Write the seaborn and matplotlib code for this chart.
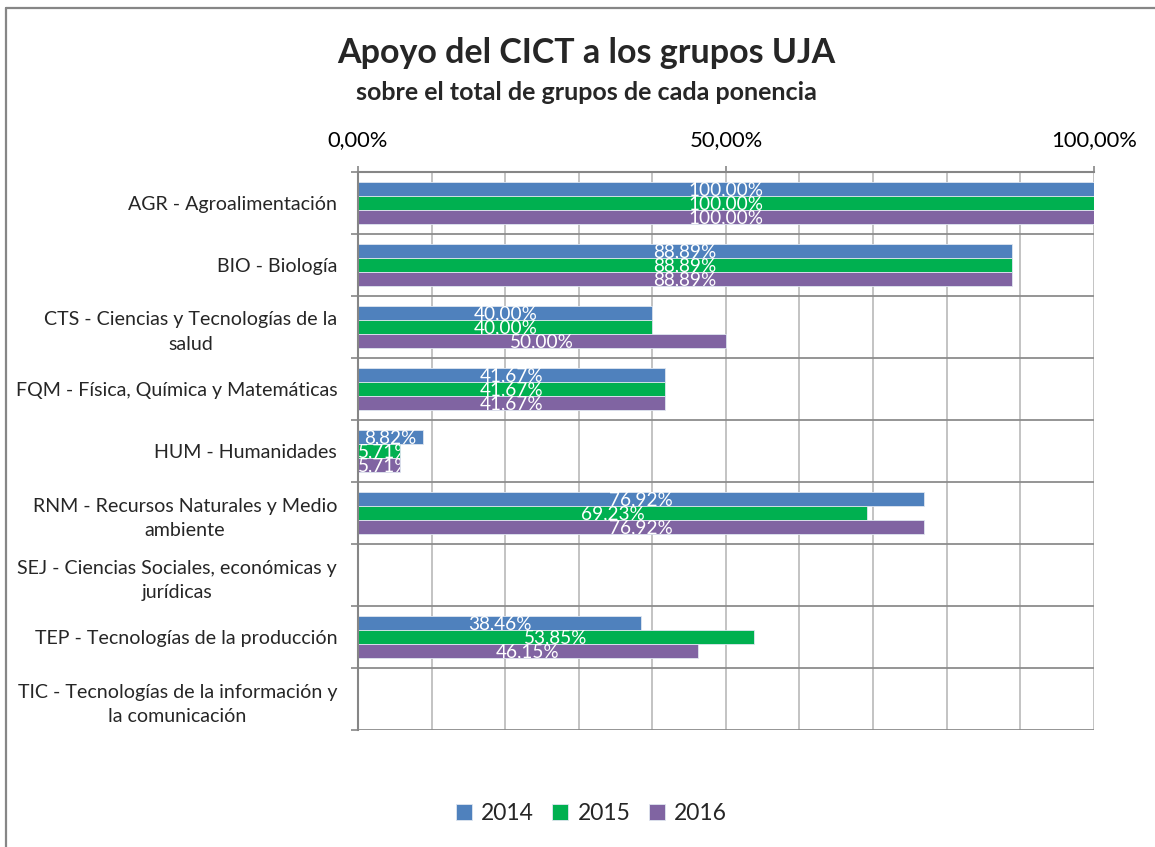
import pandas as pd
import matplotlib
matplotlib.use("Agg")
import matplotlib.pyplot as plt
import matplotlib.ticker as mticker
from matplotlib.transforms import TransformedBbox
from matplotlib.lines import Line2D
import seaborn as sns
import numpy as np

# data
categories = [
    "AGR - Agroalimentación",
    "BIO - Biología",
    "CTS - Ciencias y Tecnologías de la\nsalud",
    "FQM - Física, Química y Matemáticas",
    "HUM - Humanidades",
    "RNM - Recursos Naturales y Medio\nambiente",
    "SEJ - Ciencias Sociales, económicas y\njurídicas",
    "TEP - Tecnologías de la producción",
    "TIC - Tecnologías de la información y\nla comunicación",
]
years = ["2014", "2015", "2016"]
v2014 = [100.00, 88.89, 40.00, 41.67, 8.82, 76.92, np.nan, 38.46, np.nan]
v2015 = [100.00, 88.89, 40.00, 41.67, 5.71, 69.23, np.nan, 53.85, np.nan]
v2016 = [100.00, 88.89, 50.00, 41.67, 5.71, 76.92, np.nan, 46.15, np.nan]
colors = ["#4F81BD", "#00B050", "#8064A2"]

df = pd.DataFrame({
    "categoria": categories * 3,
    "anio": [y for y in years for _ in categories],
    "valor": v2014 + v2015 + v2016,
})

sns.set_style("white")
plt.rcParams["font.family"] = "Lato"

fig = plt.figure(figsize=(11.55, 8.47), dpi=100)
ax = fig.add_axes([0.31, 0.138, 0.637, 0.659])

sns.barplot(data=df, y="categoria", x="valor", hue="anio", order=categories,
            hue_order=years, palette=colors, orient="h", width=0.675, gap=0,
            edgecolor="#dfe6f0", linewidth=0.6, saturation=1, ax=ax, legend=True)

ax.set_xlim(0, 100)
ax.set_ylim(len(categories) - 0.5, -0.5)
ax.set_xlabel("")
ax.set_ylabel("")
ax.set_axisbelow(True)

# x axis on top, grid every 10%
ax.xaxis.tick_top()
ax.xaxis.set_major_locator(mticker.FixedLocator([0, 50, 100]))
ax.xaxis.set_minor_locator(mticker.MultipleLocator(10))
ax.xaxis.set_major_formatter(mticker.FuncFormatter(lambda x, _: f"{x:.2f}".replace(".", ",") + "%"))
ax.tick_params(axis="x", which="major", top=True, length=4, width=1.2, color="#868686",
               pad=12, labelsize=15.8, labelcolor="black")
ax.tick_params(axis="x", which="minor", top=False, bottom=False, length=0)
ax.grid(axis="x", which="both", color="#BEBEBE", linewidth=1.3)

# category labels, centred lines, right aligned to the axis
ax.set_yticks(range(len(categories)), labels=categories, multialignment="center",
              linespacing=1.55)
ax.yaxis.set_minor_locator(mticker.FixedLocator(np.arange(-0.5, len(categories), 1.0)))
ax.tick_params(axis="y", which="minor", left=True, length=5, width=1.2, color="#868686")
ax.tick_params(axis="y", which="major", left=False, length=0, pad=15, labelsize=14.1)
ax.grid(axis="y", which="minor", color="#8C8C8C", linewidth=1.3)
ax.grid(axis="y", which="major", visible=False)

for side in ["right", "bottom"]:
    ax.spines[side].set_visible(False)
for side in ["top", "left"]:
    ax.spines[side].set_color("#868686")
    ax.spines[side].set_linewidth(1.5)

# white value labels clipped to their bars
fig.canvas.draw()
for cont in ax.containers:
    for bar in cont:
        w = bar.get_width()
        if not np.isfinite(w) or w <= 0:
            continue
        yc = bar.get_y() + bar.get_height() / 2
        xc = max(w / 2, 3.6)
        t = ax.text(xc, yc + 0.02, f"{w:.2f}".replace(".", ",") + "%", ha="center", va="center",
                    color="white", fontsize=13.7)
        t.set_clip_box(TransformedBbox(bar.get_bbox(), ax.transData))
        t.set_clip_on(True)

# legend at the bottom
handles, labels = ax.get_legend_handles_labels()
ax.legend_.remove()
fig.legend(handles, labels, loc="center", bbox_to_anchor=(0.512, 0.039), ncol=3,
           frameon=False, fontsize=16.5, handlelength=0.7, handleheight=0.7,
           handletextpad=0.4, columnspacing=0.8)

# titles
fig.text(0.508, 0.938, "Apoyo del CICT a los grupos UJA", ha="center", va="center",
         fontsize=24.5, fontweight="bold")
fig.text(0.508, 0.891, "sobre el total de grupos de cada ponencia", ha="center", va="center",
         fontsize=18, fontweight="bold")

# chart frame (left and top edges)
fig.add_artist(Line2D([6 / 1155, 6 / 1155], [0, 1 - 8 / 847], transform=fig.transFigure,
                      color="#868686", linewidth=1.6))
fig.add_artist(Line2D([6 / 1155, 1], [1 - 8 / 847, 1 - 8 / 847], transform=fig.transFigure,
                      color="#868686", linewidth=1.6))

fig.savefig("out.png", dpi=100)
